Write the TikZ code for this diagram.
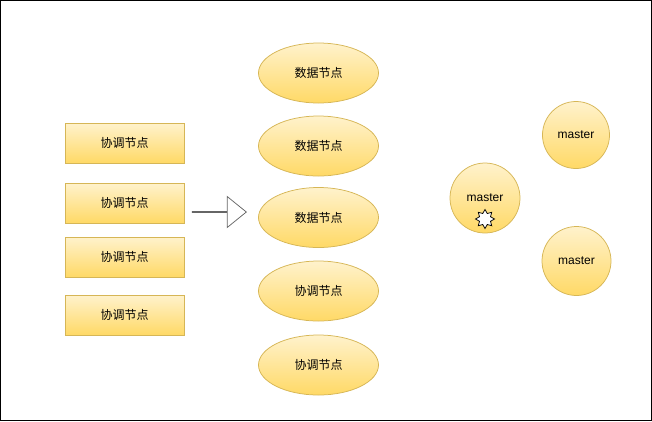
\documentclass[tikz,border=0pt]{standalone}
\usepackage{fontspec}
\setmainfont{Liberation Sans}
\newfontfamily\cjk{Noto Sans CJK SC}
\usetikzlibrary{shapes.geometric,shapes.arrows}
\definecolor{fillTop}{HTML}{FFF2CC}
\definecolor{fillBot}{HTML}{FFD966}
\definecolor{lineGold}{HTML}{D6B656}
\tikzset{
  base/.style={draw=lineGold,top color=fillTop,bottom color=fillBot,text=black,inner sep=0pt,font=\fontsize{12}{14}\selectfont},
  coord/.style={base,rectangle,minimum width=119pt,minimum height=40pt,font=\fontsize{12}{14}\selectfont\cjk},
  data/.style={base,ellipse,minimum width=120pt,minimum height=60pt,font=\fontsize{12}{14}\selectfont\cjk},
  master/.style={base,circle,minimum size=#1}
}
\begin{document}
\begin{tikzpicture}[x=1pt,y=-1pt,line width=0.75pt]
  \useasboundingbox (0,0) rectangle (652,421);
  \node[draw=black,line width=1pt,minimum width=651pt,minimum height=420pt,inner sep=0pt] (frame) at (326,210.5) {};

  \node[coord] (coordA) at (124.5,143) {协调节点};
  \node[coord] (coordB) at (124.5,203) {协调节点};
  \node[coord] (coordC) at (124.5,257) {协调节点};
  \node[coord] (coordD) at (124.5,315) {协调节点};

  \node[data] (dataA) at (318.5,73) {数据节点};
  \node[data] (dataB) at (318.5,146) {数据节点};
  \node[data] (dataC) at (318.5,217.5) {数据节点};
  \node[data] (dataD) at (318.5,291) {协调节点};
  \node[data] (dataE) at (318.5,365) {协调节点};

  \node[draw=black!60,single arrow,minimum height=54pt,minimum width=31pt,inner sep=0pt,
    single arrow head extend=10.5pt,single arrow tip angle=78] (move) at (219,212) {};

  \node[master=70pt] (masterA) at (485,198) {master};
  \node[master=67pt] (masterB) at (576,135) {master};
  \node[master=69pt] (masterC) at (576.5,261) {master};
  \node[draw=black,fill=white,star,star points=8,star point ratio=1.6,minimum size=19pt,inner sep=0pt] (crash) at (485,219) {};
\end{tikzpicture}
\end{document}
